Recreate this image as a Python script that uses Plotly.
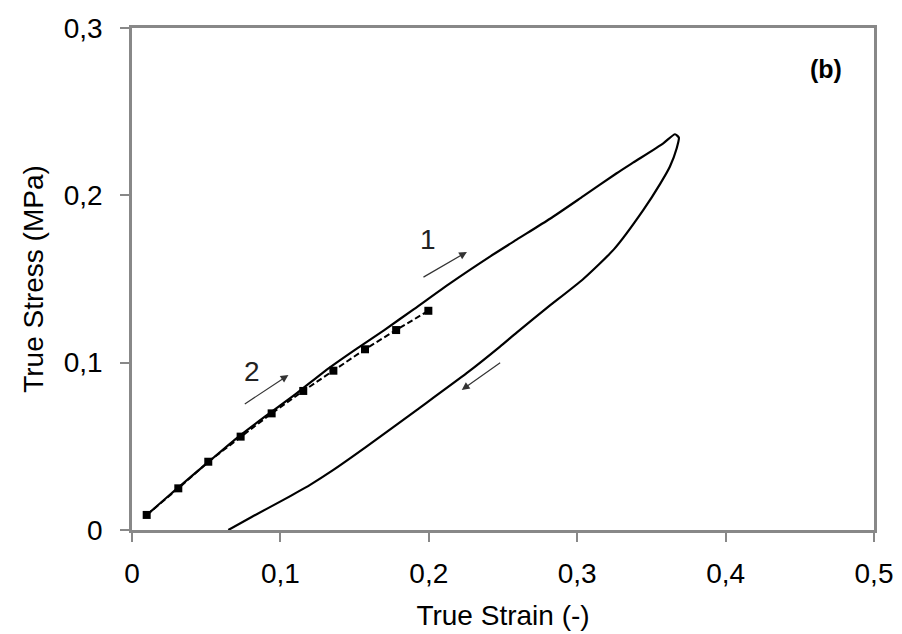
import plotly.graph_objects as go

# Series 2 (reloading, dashed with square markers)
strain_2 = [0.0099, 0.0312, 0.0514, 0.0732, 0.0941, 0.1154, 0.1357, 0.1570, 0.1780, 0.1997]
stress_2 = [0.0090, 0.0249, 0.0408, 0.0558, 0.0697, 0.0831, 0.0952, 0.1080, 0.1195, 0.1310]

# Series 1 (loading + unloading loop, solid)
strain_load = [0.010, 0.030, 0.050, 0.070, 0.090, 0.110, 0.130, 0.150, 0.170, 0.190,
               0.2143, 0.2412, 0.2592, 0.2817, 0.3041, 0.3266, 0.3376, 0.3580, 0.3659, 0.3685]
stress_load = [0.009, 0.0245, 0.0395, 0.0545, 0.068, 0.081, 0.095, 0.1075, 0.1195, 0.132,
               0.1474, 0.1634, 0.1735, 0.1860, 0.1995, 0.2132, 0.2195, 0.2311, 0.2365, 0.2345]
strain_unload = [0.3670, 0.3625, 0.3560, 0.3446, 0.3250, 0.3041, 0.2800, 0.2592, 0.2480,
                 0.2255, 0.1918, 0.1580, 0.1357, 0.1200, 0.1020, 0.0800, 0.0649]
stress_unload = [0.2280, 0.2172, 0.2070, 0.1913, 0.1680, 0.1500, 0.1330, 0.1180, 0.1096,
                 0.0937, 0.0717, 0.0498, 0.0359, 0.0270, 0.0180, 0.0075, 0.0]

x_ticks = [0, 0.1, 0.2, 0.3, 0.4, 0.5]
y_ticks = [0, 0.1, 0.2, 0.3]

FONT = "Liberation Sans, Arial, sans-serif"

fig = go.Figure()
fig.add_trace(go.Scatter(
    x=strain_load + strain_unload, y=stress_load + stress_unload,
    mode="lines", line=dict(color="black", width=2.2, shape="spline", smoothing=0.6),
    name="1", showlegend=False))
fig.add_trace(go.Scatter(
    x=strain_2, y=stress_2, mode="lines+markers",
    line=dict(color="black", width=2, dash="6px,3px"),
    marker=dict(symbol="square", size=8, color="black"),
    name="2", showlegend=False))

arrow_common = dict(xref="x", yref="y", axref="x", ayref="y", showarrow=True,
                    arrowhead=2, arrowsize=1.3, arrowwidth=1.2, arrowcolor="#333", text="")
fig.add_annotation(x=0.2257, y=0.1662, ax=0.1954, ay=0.1506, **arrow_common)
fig.add_annotation(x=0.1054, y=0.0926, ax=0.0750, ay=0.0747, **arrow_common)
fig.add_annotation(x=0.2222, y=0.0837, ax=0.2491, ay=0.1006, **arrow_common)

fig.add_annotation(x=0.1995, y=0.1736, xref="x", yref="y", text="1", showarrow=False,
                   font=dict(family=FONT, size=28, color="#222"))
fig.add_annotation(x=0.0807, y=0.0946, xref="x", yref="y", text="2", showarrow=False,
                   font=dict(family=FONT, size=28, color="#222"))
fig.add_annotation(x=0.9596, y=0.950, xref="paper", yref="paper", text="<b>(b)</b>",
                   showarrow=False, font=dict(family=FONT, size=25, color="black"))

axis_common = dict(showline=True, linecolor="#888", linewidth=2.5, mirror=True,
                   ticks="outside", ticklen=9, tickwidth=1.5, tickcolor="#888",
                   showgrid=False, zeroline=False, automargin=False,
                   tickfont=dict(family=FONT, size=28, color="black"))

fig.update_xaxes(range=[0, 0.5], tickvals=x_ticks, tickformat=".1~f",
                 title=dict(text="True Strain (-)", font=dict(family=FONT, size=28, color="black"),
                            standoff=18),
                 ticklabelstandoff=8, **axis_common)
fig.update_yaxes(range=[0, 0.3], tickvals=y_ticks, tickformat=".1~f",
                 title=dict(text="True Stress (MPa)", font=dict(family=FONT, size=28, color="black"),
                            standoff=12),
                 ticklabelstandoff=12, **axis_common)

fig.update_layout(
    width=902, height=634,
    margin=dict(l=132, r=28, t=28, b=104),
    paper_bgcolor="white", plot_bgcolor="white",
    separators=",.",
    font=dict(family=FONT),
)

fig.write_html("out.html", config={"displayModeBar": False},
               post_script="document.body.style.margin='0';")
